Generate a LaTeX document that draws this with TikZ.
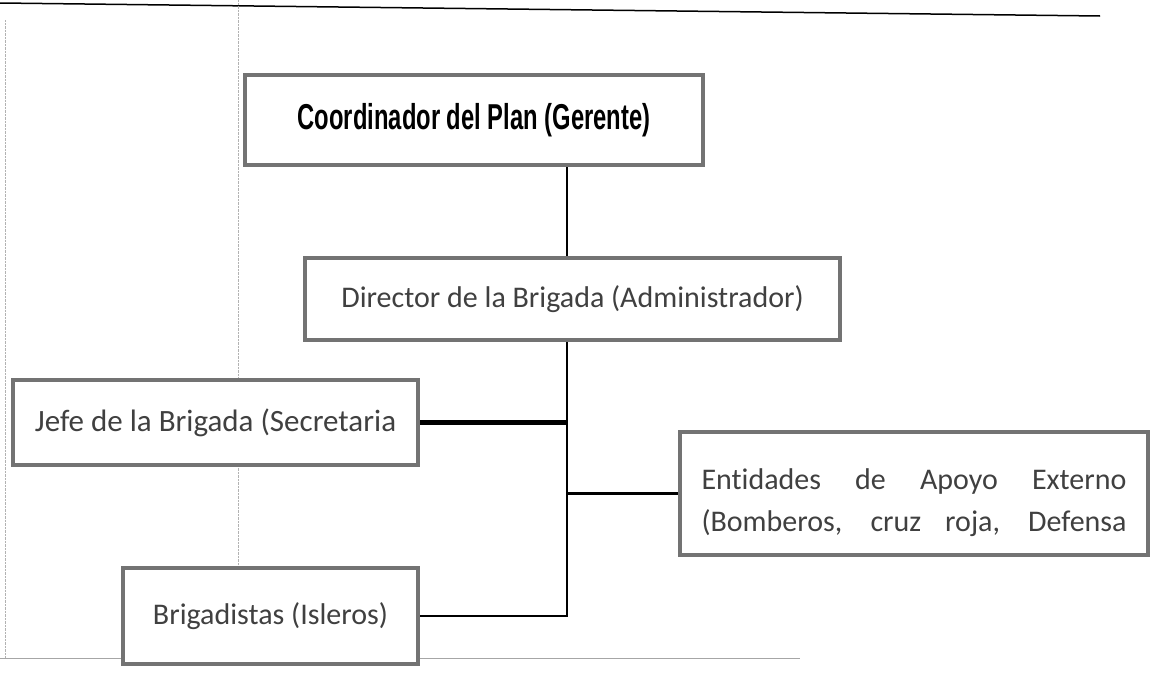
\documentclass[tikz,border=0pt]{standalone}
\usepackage{fontspec}
\setmainfont{Carlito}[Ligatures=NoCommon]
\newfontfamily\titlefont[FakeStretch=0.66]{Liberation Sans}

\begin{document}
\begin{tikzpicture}[x=1pt, y=-1pt,
    caja/.style={draw=black!55, line width=4pt, fill=white, inner sep=0pt,
      text=black!75, font=\fontsize{30}{42}\selectfont},
    linea/.style={line width=2.5pt}]
  \useasboundingbox (0,0) rectangle (1156,672);
  % bordes de la hoja
  \draw[line width=1.5pt] (0,3) -- (1100,16);
  \draw[black!30, densely dotted] (5,20) -- (5,658);
  \draw[black!30, densely dotted] (238,0) -- (238,658);
  \draw[black!35] (0,658) -- (800,658);

  \node[caja, minimum width=458pt, minimum height=90pt, text=black,
    font=\titlefont\bfseries\fontsize{36}{40}\selectfont] (coord) at (474,120) {Coordinador del Plan (Gerente)};
  \node[caja, minimum width=535pt, minimum height=82pt] (dir) at (572.5,299) {Director de la Brigada (Administrador)};
  \node[caja, minimum width=405pt, minimum height=85pt, font=\fontsize{31}{36}\selectfont] (jefe) at (215.5,422.5) {Jefe de la Brigada (Secretaria};
  \node[caja, minimum width=468pt, minimum height=123pt, align=center] (ent) at (914,493.5)
    {\rule{0pt}{40pt}\makebox[425pt][s]{Entidades de Apoyo Externo}\\\makebox[425pt][s]{(Bomberos, cruz roja, Defensa}};
  \node[caja, minimum width=295pt, minimum height=96pt] (brig) at (270.5,616) {\raisebox{-10pt}{Brigadistas (Isleros)}};

  \coordinate (eje) at (567,0);
  \draw[linea] (coord.south -| eje) -- (dir.north -| eje);
  \draw[linea] (dir.south -| eje) -- (brig.east -| eje) -- (brig.east);
  \draw[line width=5pt] (jefe.east) -- (jefe.east -| eje);
  \draw[linea] (ent.west -| eje) -- (ent.west);
\end{tikzpicture}
\end{document}
